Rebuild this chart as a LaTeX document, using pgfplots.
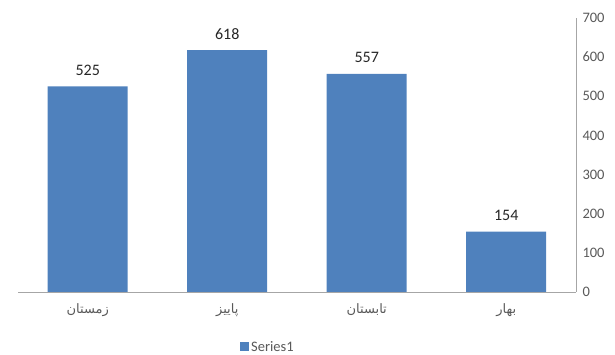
\documentclass[border=0pt]{standalone}
\usepackage{pgfplots}
\pgfplotsset{compat=1.18}
\usepackage{fontspec}
\setmainfont{Carlito}
\newfontfamily\arabicfont[Script=Arabic]{DejaVu Sans}
\TeXXeTstate=1
\definecolor{barblue}{HTML}{4F81BD}
\definecolor{axgray}{HTML}{A6A6A6}
\definecolor{txtgray}{HTML}{595959}
\begin{document}
\begin{tikzpicture}
\useasboundingbox (0,0) rectangle (615pt,355pt);
\begin{axis}[
  at={(18pt,63pt)}, anchor=south west,
  scale only axis, width=558pt, height=274pt,
  x dir=reverse,
  xmin=-0.5, xmax=3.5, ymin=0, ymax=700,
  ytick={0,100,...,700},
  xtick={0,1,2,3},
  xticklabels={{\arabicfont\beginR بهار\endR},{\arabicfont\beginR تابستان\endR},{\arabicfont\beginR پاییز\endR},{\arabicfont\beginR زمستان\endR}},
  x tick label style={font=\fontsize{13}{15}\selectfont, text=txtgray, yshift=-8pt},
  y tick label style={font=\fontsize{14.5}{16}\selectfont, text=txtgray, anchor=west, xshift=3pt},
  /pgf/number format/assume math mode=true,
  axis y line*=right, axis x line*=bottom,
  axis line style={draw=axgray, line width=0.8pt},
  major tick length=0pt,
  tick style={draw=none},
  ybar, bar width=80pt,
  nodes near coords,
  every node near coord/.append style={font=\fontsize{16}{18}\selectfont, text=black!85, anchor=base, yshift=11pt, inner sep=0pt},
  legend style={at={(0.448,-0.2)}, anchor=center, draw=none, font=\fontsize{14.5}{16}\selectfont, text=txtgray, inner sep=0pt},
  legend image code/.code={\fill[barblue] (0pt,-4.5pt) rectangle (9pt,4.5pt);},
]
\addplot[fill=barblue, draw=none] coordinates {(0,154) (1,557) (2,618) (3,525)};
\addlegendentry{Series1}
\end{axis}
\end{tikzpicture}
\end{document}
